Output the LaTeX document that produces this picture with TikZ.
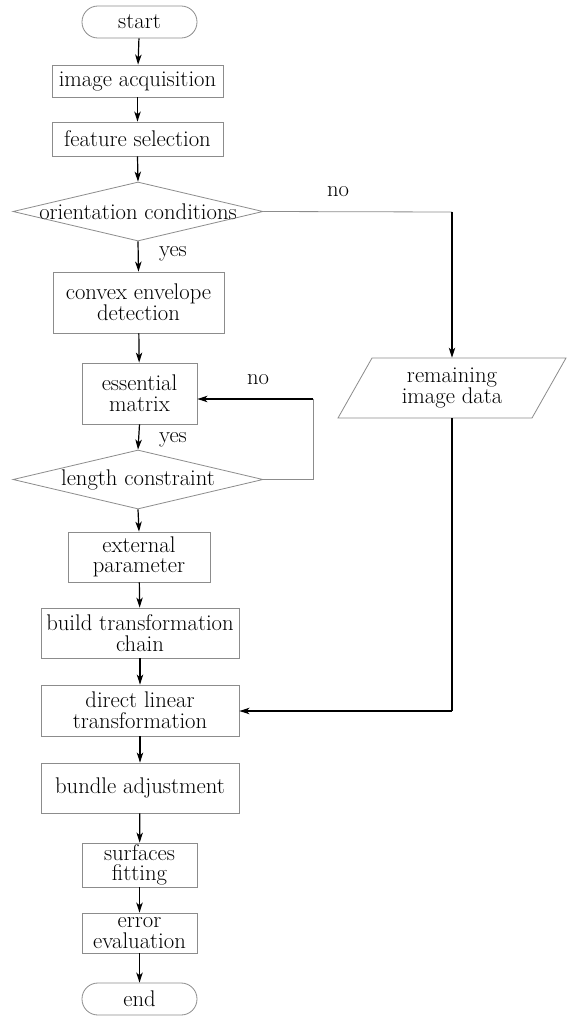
\documentclass[tikz,border=0pt]{standalone}
\usetikzlibrary{shapes.geometric,arrows.meta}
\begin{document}
\begin{tikzpicture}[x=0.75pt,y=-0.75pt,
  every node/.style={font=\fontsize{17}{15.5}\selectfont},
  box/.style={draw=black!45,line width=0.6pt,rectangle,align=center,inner sep=0pt},
  term/.style={box,rounded corners=11.9pt},
  dia/.style={draw=black!45,line width=0.6pt,diamond,inner sep=0pt,minimum width=187.5pt,minimum height=44.25pt},
  arr/.style={line width=0.9pt,-{Stealth[length=7.5pt,width=4.8pt,inset=2pt]}},
  gline/.style={draw=black!45,line width=0.6pt},
  lbl/.style={inner sep=0pt}]
\fill[white] (0,0) rectangle (572,1018);
\useasboundingbox (0,0) rectangle (572,1018);

\node[term,minimum width=86.25pt,minimum height=24pt] (start) at (139.5,22) {start};
\node[box,minimum width=128.25pt,minimum height=24pt] (acq) at (137.5,81) {image acquisition};
\node[box,minimum width=128.25pt,minimum height=25.5pt] (feat) at (137.5,139) {feature selection};
\node[dia] (d1) at (138,211.5) {};
\node[lbl] at (d1) {orientation conditions};
\node[box,minimum width=128.25pt,minimum height=45.75pt] (conv) at (138.5,302.5) {convex envelope\\detection};
\node[box,minimum width=86.25pt,minimum height=45.75pt] (ess) at (139.5,393.5) {essential\\matrix};
\node[dia] (d2) at (138,479.5) {};
\node[lbl] at (d2) {length constraint};
\node[box,minimum width=106.5pt,minimum height=37.5pt] (ext) at (139,557) {external\\parameter};
\node[box,minimum width=148.5pt,minimum height=37.5pt] (build) at (140,633) {build transformation\\chain};
\node[box,minimum width=148.5pt,minimum height=38.25pt] (dlt) at (140,710.5) {direct linear\\transformation};
\node[box,minimum width=148.5pt,minimum height=37.5pt] (bund) at (140,788) {bundle adjustment};
\node[box,minimum width=86.25pt,minimum height=33pt] (surf) at (139.5,865) {surfaces\\fitting};
\node[box,minimum width=86.25pt,minimum height=30pt] (err) at (139.5,933) {error\\evaluation};
\node[term,minimum width=86.25pt,minimum height=24pt] (end) at (139.5,999) {end};

\draw[draw=black!45,line width=0.6pt] (338,418) -- (532,418) -- (566,358) -- (372,358) -- cycle;
\node[align=center,inner sep=0pt,minimum height=45pt] (rem) at (452,388) {remaining\\image data};

\node[lbl] (yes1) at (173,254) {yes};
\node[lbl] (yes2) at (173,440) {yes};
\node[lbl] (no1) at (338,192) {no};
\node[lbl] (no2) at (258,380) {no};

\coordinate (c1) at (452,212);
\coordinate (c2) at (452,711);
\coordinate (c3) at (313,479.5);
\coordinate (c4) at (313,399);

\draw[arr] (start) -- (acq);
\draw[arr] (acq) -- (feat);
\draw[arr] (feat.south) -- (d1.north);
\draw[arr] (d1.south) -- (conv.north);
\draw[arr] (conv) -- (ess);
\draw[arr] (ess.south) -- (d2.north);
\draw[arr] (d2.south) -- (ext.north);
\draw[arr] (ext) -- (build);
\draw[arr] (build) -- (dlt);
\draw[arr] (dlt) -- (bund);
\draw[arr] (bund) -- (surf);
\draw[arr] (surf) -- (err);
\draw[arr] (err) -- (end);

\draw[gline] (d1.east) -- (c1);
\draw[arr] (c1) -- (rem.north);
\draw[line width=0.9pt] (rem.south) -- (c2);
\draw[arr] (c2) -- (dlt.east |- c2);

\draw[gline] (d2.east) -- (c3) -- (c4);
\draw[arr] (c4) -- (ess.east |- c4);
\end{tikzpicture}
\end{document}
